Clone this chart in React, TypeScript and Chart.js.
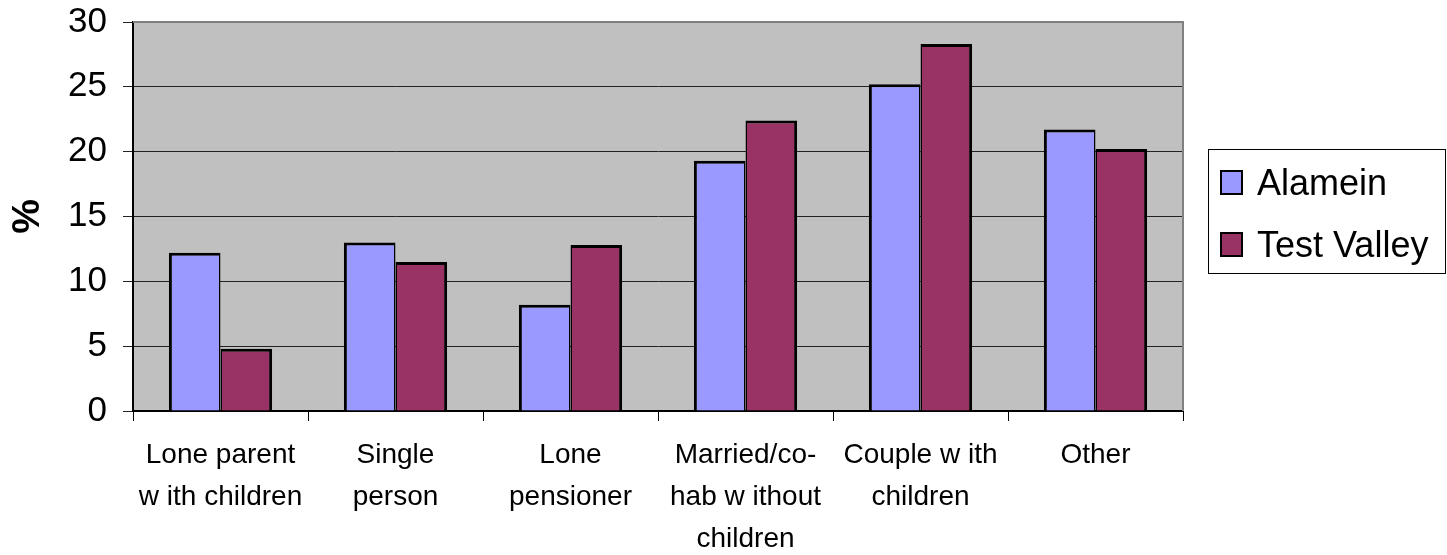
import React, { useEffect, useRef } from "react";
import { Chart, registerables } from "chart.js";

Chart.register(...registerables);

const categories: string[][] = [
  ["Lone parent", "w ith children"],
  ["Single", "person"],
  ["Lone", "pensioner"],
  ["Married/co-", "hab w ithout", "children"],
  ["Couple w ith", "children"],
  ["Other"],
];
const alameinValues = [12.2, 13.0, 8.2, 19.3, 25.2, 21.7];
const testValleyValues = [4.8, 11.5, 12.8, 22.4, 28.3, 20.2];
const seriesNames = ["Alamein", "Test Valley"];
const seriesColors = ["#9999FF", "#993366"];
const yTitle = "%";

const FONT = "'Liberation Sans', Arial, Helvetica, sans-serif";

const plotBgPlugin = {
  id: "plotBg",
  beforeDraw(chart: any) {
    const { ctx, chartArea, width, height } = chart;
    ctx.save();
    ctx.fillStyle = "#FFFFFF";
    ctx.fillRect(0, 0, width, height);
    ctx.fillStyle = "#C0C0C0";
    ctx.fillRect(chartArea.left, chartArea.top, chartArea.right - chartArea.left, chartArea.bottom - chartArea.top);
    ctx.restore();
  },
  beforeDatasetsDraw(chart: any) {
    const { ctx, chartArea } = chart;
    ctx.save();
    ctx.strokeStyle = "#808080";
    ctx.lineWidth = 2;
    ctx.beginPath();
    ctx.moveTo(chartArea.left, chartArea.top);
    ctx.lineTo(chartArea.right, chartArea.top);
    ctx.lineTo(chartArea.right, chartArea.bottom);
    ctx.stroke();
    ctx.restore();
  },
};

const legendPlugin = {
  id: "boxLegend",
  afterDraw(chart: any) {
    const { ctx } = chart;
    ctx.save();
    ctx.strokeStyle = "#000000";
    ctx.lineWidth = 1;
    ctx.strokeRect(1208.5, 149.5, 237, 124);
    ctx.font = `36px ${FONT}`;
    ctx.textBaseline = "alphabetic";
    ctx.textAlign = "left";
    const baselines = [195, 257];
    chart.data.datasets.forEach((ds: any, i: number) => {
      const b = baselines[i];
      ctx.fillStyle = ds.backgroundColor;
      ctx.fillRect(1221, b - 24, 21, 23);
      ctx.lineWidth = 2;
      ctx.strokeStyle = "#000000";
      ctx.strokeRect(1221, b - 24, 21, 23);
      ctx.fillStyle = "#000000";
      ctx.fillText(ds.label, 1257, b);
    });
    ctx.restore();
  },
};

function App() {
  const canvasRef = useRef<HTMLCanvasElement | null>(null);

  useEffect(() => {
    if (!canvasRef.current) return;
    Chart.defaults.color = "#000000";
    Chart.defaults.font.family = FONT;
    const chart = new Chart(canvasRef.current, {
      type: "bar",
      data: {
        labels: categories,
        datasets: [
          {
            label: seriesNames[0],
            data: alameinValues,
            backgroundColor: seriesColors[0],
            borderColor: "#000000",
            borderWidth: { left: 3, top: 3, right: 1.5, bottom: 0 },
            borderSkipped: false,
            categoryPercentage: 0.59,
            barPercentage: 1,
          },
          {
            label: seriesNames[1],
            data: testValleyValues,
            backgroundColor: seriesColors[1],
            borderColor: "#000000",
            borderWidth: { left: 1.5, top: 3, right: 3, bottom: 0 },
            borderSkipped: false,
            categoryPercentage: 0.59,
            barPercentage: 1,
          },
        ],
      },
      options: {
        animation: false,
        responsive: true,
        maintainAspectRatio: false,
        layout: { padding: { top: 22, right: 264, bottom: 0, left: 0 } },
        plugins: {
          legend: { display: false },
          tooltip: { enabled: false },
          title: { display: false },
        },
        scales: {
          x: {
            offset: true,
            grid: {
              offset: true,
              drawOnChartArea: false,
              drawTicks: true,
              tickLength: 10,
              color: "#000000",
              lineWidth: 1,
            },
            border: { display: true, color: "#000000", width: 2 },
            ticks: {
              color: "#000000",
              font: { size: 28, family: FONT, lineHeight: 42 / 28 },
              padding: 13,
              maxRotation: 0,
              minRotation: 0,
              autoSkip: false,
            },
            afterFit(scale: any) {
              scale.height = 144;
              scale.paddingLeft = 0;
              scale.paddingRight = 0;
            },
          },
          y: {
            min: 0,
            max: 30,
            grid: {
              color: "#222222",
              lineWidth: 1,
              tickLength: 10,
              drawTicks: true,
            },
            border: { display: true, color: "#000000", width: 2 },
            ticks: {
              stepSize: 5,
              color: "#000000",
              font: { size: 35, family: FONT, lineHeight: 1 },
              padding: 16,
            },
            title: {
              display: true,
              text: yTitle,
              color: "#000000",
              font: { size: 39, weight: "bold", family: FONT },
              padding: { top: 5, bottom: 0 },
            },
            afterFit(scale: any) {
              scale.width = 133;
              scale.paddingTop = 0;
              scale.paddingBottom = 0;
            },
          },
        },
      },
      plugins: [plotBgPlugin, legendPlugin],
    });
    return () => chart.destroy();
  }, []);

  return (
    <div style={{ position: "fixed", left: 0, top: 0, width: 1447, height: 555, background: "#FFFFFF" }}>
      <canvas ref={canvasRef} />
    </div>
  );
}

export default App;
